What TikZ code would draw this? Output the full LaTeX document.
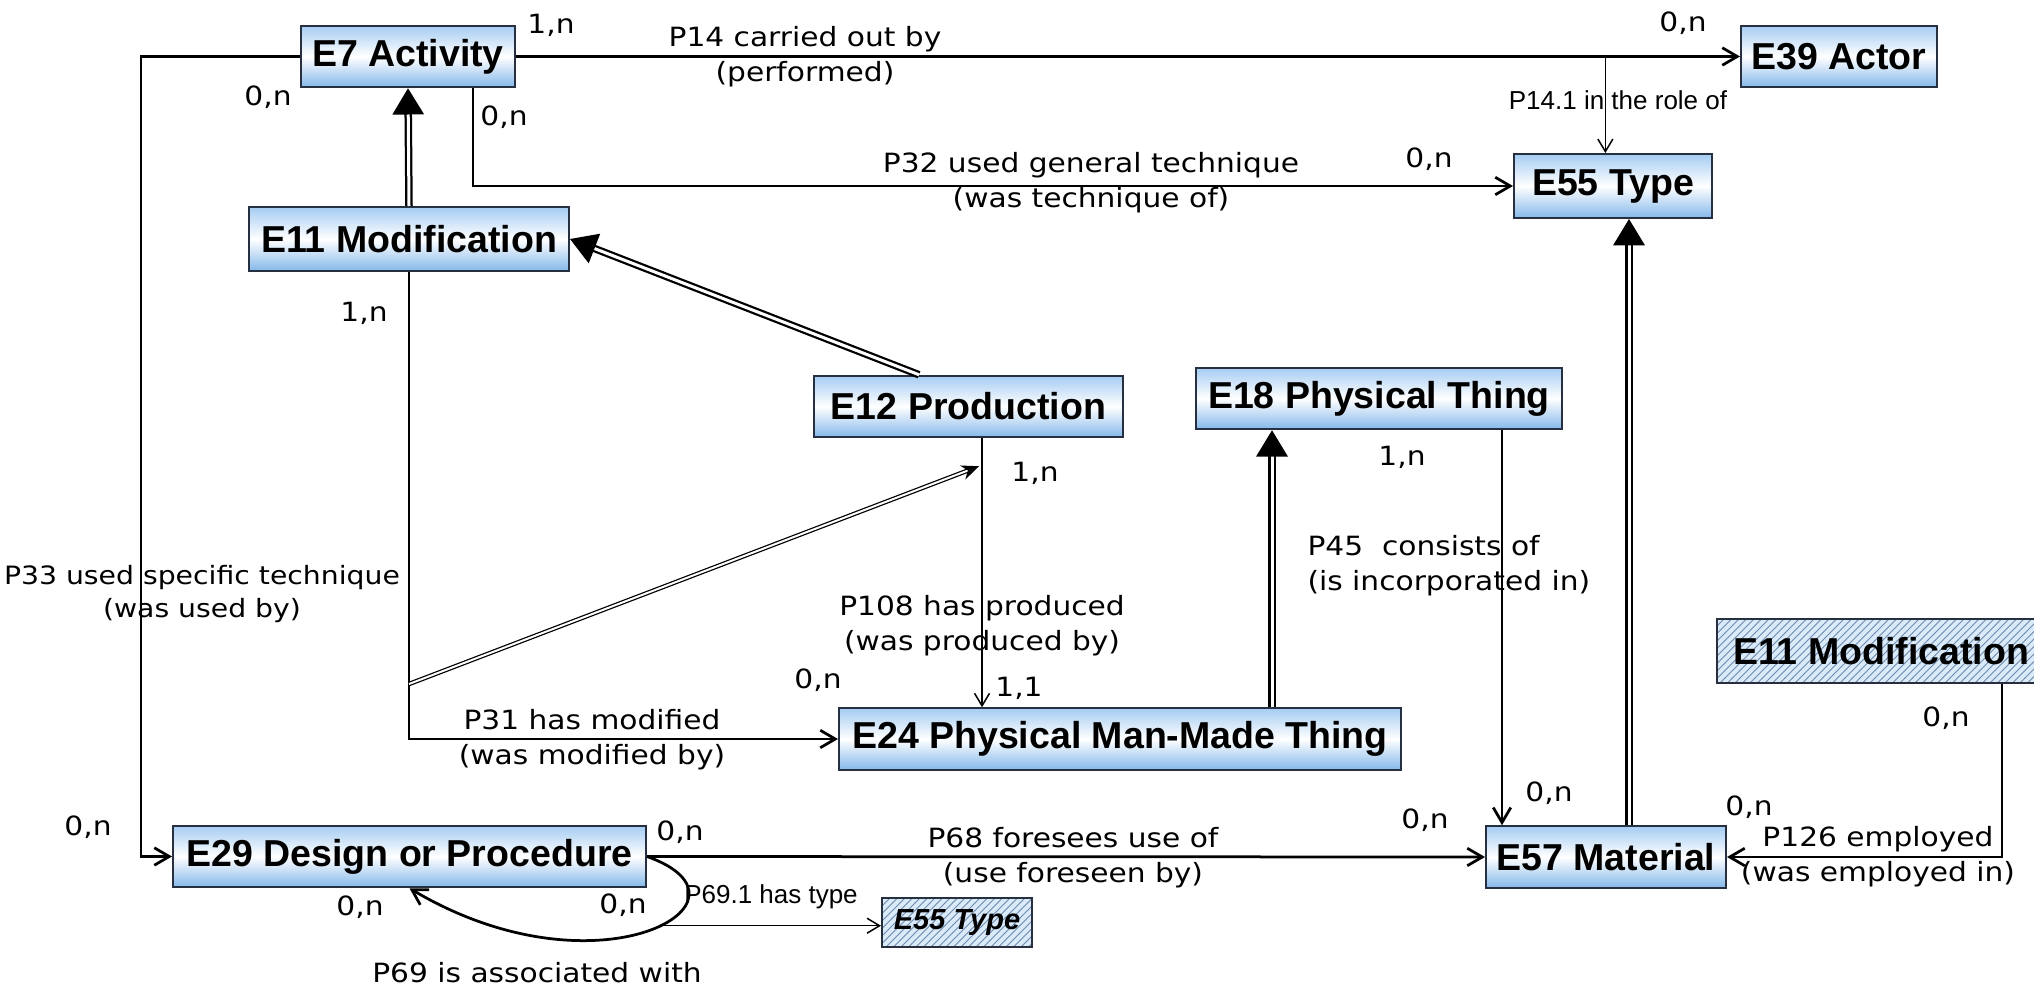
\documentclass[tikz,border=0pt]{standalone}
\usepackage{fontspec}
\setmainfont{Liberation Sans}
\newfontfamily\lblfont[FakeStretch=1.12]{DejaVu Sans}
\usetikzlibrary{arrows.meta, patterns}

\definecolor{boxtop}{RGB}{165,204,242}
\definecolor{boxbot}{RGB}{132,184,234}
\definecolor{boxline}{RGB}{38,48,64}
\definecolor{hatchbg}{RGB}{218,234,248}
\definecolor{hatchln}{RGB}{110,140,175}

\begin{document}
\begin{tikzpicture}[x=0.4pt, y=-0.4pt]
    \useasboundingbox (0,0) rectangle (2034,993);

    % Define the looks of boxes, labels and links
    \tikzset{
      cls/.style={draw=boxline, line width=0.8pt, top color=boxtop, bottom color=boxbot, middle color=white,
        minimum height=24.6pt, inner sep=0pt, font=\fontsize{15}{18}\selectfont\bfseries},
      hatchcls/.style={draw=boxline, line width=0.8pt, preaction={fill=hatchbg}, pattern=north east lines,
        pattern color=hatchln, minimum height=25.6pt, inner sep=0pt, font=\fontsize{15}{18}\selectfont\bfseries},
      rel/.style={font=\lblfont\fontsize{10.6}{14}\selectfont, align=center, inner sep=0pt},
      card/.style={font=\lblfont\fontsize{10.6}{14}\selectfont, inner sep=0pt},
      subrel/.style={font=\fontsize{10.4}{12}\selectfont, inner sep=0pt},
      link/.style={line width=1.1pt, -{Straight Barb[length=6pt, width=7pt]}},
      thinlink/.style={line width=0.6pt, -{Straight Barb[length=5pt, width=6pt]}},
      isa/.style={double=white, double distance=1.2pt, line width=0.9pt, -{Triangle[length=10.5pt, width=12.5pt]}},
      subprop/.style={double=white, double distance=0.8pt, line width=0.5pt, -{Stealth[length=7pt, width=6pt]}}
    }

    % classes
    \node[cls, minimum width=85.6pt] (activity) at (408,56.5) {E7 Activity};
    \node[cls, minimum width=78.4pt] (actor) at (1839,56.5) {E39 Actor};
    \node[cls, minimum width=79.2pt, minimum height=25.6pt] (type) at (1613,186) {E55 Type};
    \node[cls, minimum width=128pt, minimum height=25.6pt] (modif) at (409,239) {E11 Modification};
    \node[cls, minimum width=123.6pt] (production) at (968.5,406.5) {E12 Production};
    \node[cls, minimum width=146.4pt] (physthing) at (1379,398.5) {E18 Physical Thing};
    \node[cls, minimum width=224.8pt] (manmade) at (1120,739) {E24 Physical Man-Made Thing};
    \node[cls, minimum width=189.2pt] (design) at (409.5,856.5) {E29 Design or Procedure};
    \node[cls, minimum width=96pt] (material) at (1606,857) {E57 Material};
    \node[hatchcls, minimum width=131.2pt] (modif2) at (1881,651) {E11 Modification};
    \node[hatchcls, minimum width=60pt, minimum height=19.6pt, font=\fontsize{11.6}{14}\selectfont\bfseries\itshape] (type2) at (957,922.5) {E55 Type};

    % properties
    \draw[link] (activity.east) -- coordinate[pos=0.89] (p14role) (actor.west);
    \draw[thinlink] (p14role) -- (p14role |- type.north);
    \draw[link] ([xshift=26pt]activity.south) |- (type.west);
    \draw[link] (activity.west) -- ++(-159,0) |- (design.west);
    \draw[link] (modif.south) |- (manmade.west);

    \coordinate (p108top) at ([xshift=5.4pt]production.south);
    \draw[thinlink] (p108top) -- (p108top |- manmade.north);

    \coordinate (p45top) at ([xshift=49.2pt]physthing.south);
    \draw[link] (p45top) -- (p45top |- material.north);

    \coordinate (p126top) at ([xshift=48.4pt]modif2.south);
    \draw[link] (p126top) |- (material.east);

    \draw[link] (design.east) -- (material.west);
    \draw[link] (design.east) .. controls +(124,44) and +(190,113) .. coordinate[pos=0.45] (p69mid) (design.south);
    \draw[thinlink] (p69mid) -- (p69mid -| type2.west);

    % subclass and subproperty links
    \draw[isa] (modif.north) -- (activity.south);
    \coordinate (isa3) at ([xshift=-19.8pt]production.north);
    \draw[isa] (isa3) -- (modif.east);
    \coordinate (isa1) at ([xshift=60.8pt]manmade.north);
    \draw[isa] (isa1) -- (isa1 |- physthing.south);
    \coordinate (isa2) at ([xshift=9.2pt]material.north);
    \draw[isa] (isa2) -- (isa2 |- type.south);

    \coordinate (p31sub) at ([yshift=-164.8pt]modif.south);
    \coordinate (p108sub) at ([xshift=-1.2pt, yshift=-11.2pt]p108top);
    \draw[subprop] (p31sub) -- (p108sub);

    % property labels
    \node[rel] (l14) at (805,57) {P14 carried out by\\(performed)};
    \node[subrel] (l141) at (1618,100) {P14.1 in the role of};
    \node[rel] (l32) at (1091,183) {P32 used general technique\\(was technique of)};
    \node[rel, font=\lblfont\fontsize{10.1}{13.5}\selectfont] (l33) at (202,594) {P33 used specific technique\\(was used by)};
    \node[rel] (l31) at (592,740) {P31 has modified\\(was modified by)};
    \node[rel] (l108) at (982,626) {P108 has produced\\(was produced by)};
    \node[rel, align=left, anchor=west] (l45) at (1307,566) {P45\ \ consists of\\(is incorporated in)};
    \node[rel] (l68) at (1073,858) {P68 foresees use of\\(use foreseen by)};
    \node[rel] (l126) at (1878,857) {P126 employed\\(was employed in)};
    \node[subrel] (l691) at (771,897) {P69.1 has type};
    \node[rel] (l69) at (537,973) {P69 is associated with};

    % cardinalities
    \foreach \x/\y/\t [count=\i] in {551/25/{1,n}, 1683/23/{0,n}, 268/97/{0,n}, 504/117/{0,n},
        1429/159/{0,n}, 364/313/{1,n}, 1035/473/{1,n}, 1402/457/{1,n}, 818/680/{0,n},
        1019/688/{1,1}, 1946/718/{0,n}, 1549/793/{0,n}, 1749/807/{0,n}, 1425/820/{0,n},
        88/827/{0,n}, 680/832/{0,n}, 360/907/{0,n}, 623/905/{0,n}} {
        \node[card] (card\i) at (\x,\y) {\t};
    }
\end{tikzpicture}
\end{document}
